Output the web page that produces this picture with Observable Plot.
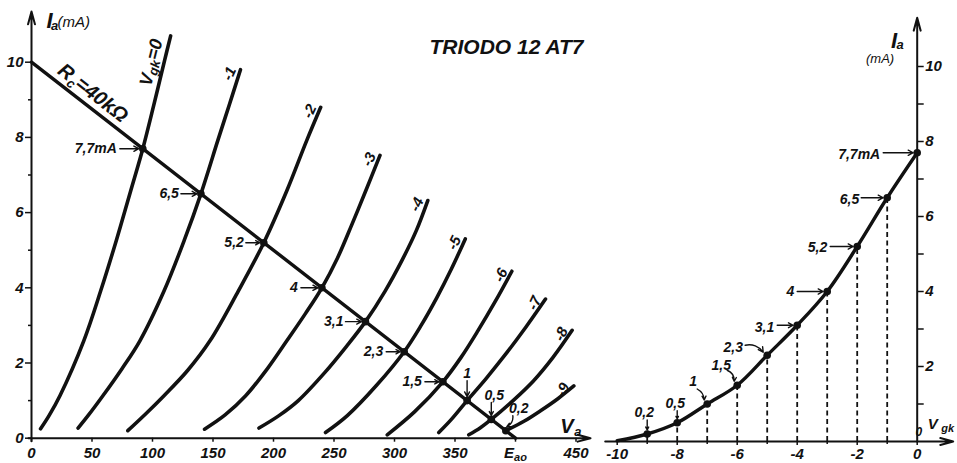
<!DOCTYPE html>
<html>
<head>
<meta charset="utf-8">
<script src="https://cdn.jsdelivr.net/npm/d3@7"></script>
<script src="https://cdn.jsdelivr.net/npm/@observablehq/plot@0.6"></script>
<style>
html, body { margin: 0; padding: 0; background: #fff; }
#chart { position: relative; width: 957px; height: 463px; overflow: hidden; background: #fff; }
#chart svg { position: absolute; left: 0; top: 0; }
</style>
</head>
<body>
<div id="chart"></div>
<script>
// ---------------- data ----------------
const gridVoltages = [0, -1, -2, -3, -4, -5, -6, -7, -8, -9];
const loadCurrents = [7.7, 6.5, 5.2, 4, 3.1, 2.3, 1.5, 1, 0.5, 0.2];
const loadVoltages = [92, 140, 192, 240, 276, 308, 340, 360, 380, 392];
const loadLineVa = [0, 400];
const loadLineIa = [10, 0];

const vaG0 = [7.5, 14.5, 23.5, 43.2, 57.2, 70.1, 82, 92, 101, 110, 115];
const iaG0 = [0.25, 0.6, 1.13, 2.59, 3.92, 5.26, 6.58, 7.7, 8.85, 10.05, 10.7];
const vaG1 = [38.5, 47.2, 59, 74.8, 89.6, 109.6, 126.2, 140, 154, 163.3, 172.7];
const iaG1 = [0.27, 0.62, 1.13, 1.85, 2.59, 3.92, 5.26, 6.5, 7.92, 8.85, 9.8];
const vaG2 = [79.6, 94.5, 109.5, 129, 147.5, 171, 192, 211, 227.5, 239];
const iaG2 = [0.2, 0.65, 1.13, 1.8, 2.59, 3.92, 5.2, 6.58, 7.92, 8.8];
const vaG3 = [143, 160, 177, 195, 211, 226.5, 240, 253, 265, 276.5, 288];
const iaG3 = [0.24, 0.62, 1.13, 1.85, 2.59, 3.32, 4, 4.8, 5.7, 6.6, 7.52];
const vaG4 = [188, 204.5, 220.5, 242.5, 260.5, 276, 292, 306.5, 318, 327.5];
const iaG4 = [0.27, 0.6, 1.0, 1.75, 2.45, 3.1, 3.9, 4.75, 5.52, 6.32];
const vaG5 = [243, 261, 285, 308, 322, 335, 347, 358.5];
const iaG5 = [0.15, 0.6, 1.4, 2.3, 3.0, 3.74, 4.5, 5.3];
const vaG6 = [294, 316.5, 340, 355, 369, 383.5, 397];
const iaG6 = [0.09, 0.7, 1.5, 2.15, 2.86, 3.65, 4.44];
const vaG7 = [336.6, 347, 360, 375.5, 392, 408.5, 424.8];
const iaG7 = [0.15, 0.5, 1.0, 1.58, 2.24, 2.95, 3.7];
const vaG8 = [361.4, 371, 380, 398, 415, 431, 446.8];
const iaG8 = [0.09, 0.28, 0.5, 1.0, 1.53, 2.15, 2.87];
const vaG9 = [392, 407, 420.7, 435, 448.2];
const iaG9 = [0.2, 0.45, 0.73, 1.05, 1.39];

const transferVgk = [-10, -9, -8, -7, -6, -5, -4, -3, -2, -1, 0];
const transferIa = [0.02, 0.2, 0.5, 1, 1.5, 2.3, 3.1, 4, 5.2, 6.5, 7.7];

const vaTicks = [0, 50, 100, 150, 200, 250, 300, 350, 400, 450];
const vaTickLabels = ["0", "50", "100", "150", "200", "250", "300", "350", "Eao", "450"];
const iaTicks = [0, 2, 4, 6, 8, 10];
const iaMinorTicks = [1, 3, 5, 7, 9];
const vgkTicks = [-10, -8, -6, -4, -2, 0];
const vgkMinorTicks = [-9, -7, -5, -3, -1];
const iaTicksRight = [2, 4, 6, 8, 10];

const titleText = "TRIODO 12 AT7";
const rcLabel = "Rc=40kΩ";
const vgk0Label = "Vgk=0";

// ---------------- tables built from the arrays ----------------
const plateVa = [vaG0, vaG1, vaG2, vaG3, vaG4, vaG5, vaG6, vaG7, vaG8, vaG9];
const plateIa = [iaG0, iaG1, iaG2, iaG3, iaG4, iaG5, iaG6, iaG7, iaG8, iaG9];
const plateRows = gridVoltages.flatMap((g, k) => plateVa[k].map((v, j) => ({g, va: v, ia: plateIa[k][j]})));
const plateTops = gridVoltages.map((g, k) => ({g, va: plateVa[k][plateVa[k].length - 1], ia: plateIa[k][plateIa[k].length - 1]}));
const vgk0Anchor = [{va: vaG0[vaG0.length - 2], ia: iaG0[iaG0.length - 2]}];
const loadLine = loadLineVa.map((v, i) => ({va: v, ia: loadLineIa[i]}));
const fmt = d => String(d).replace(".", ",");
const loadPoints = loadCurrents.map((c, i) => ({va: loadVoltages[i], vgk: gridVoltages[i], ia: c, label: fmt(c) + (i === 0 ? "mA" : "")}));
const transferRows = transferVgk.map((v, i) => ({vgk: v, ia: transferIa[i]}));
const dashedRows = transferRows.filter(d => d.vgk > -10 && d.vgk < 0);

// ---------------- layout / style ----------------
const W = 957, H = 463;
const FONT = "'Liberation Sans', Arial, sans-serif";
const INK = "#111";
const L = {left: 31, right: 575.5, top: 61.7, bottom: 437.7};
const R = {left: 616.7, right: 916.7, top: 66, bottom: 441};
const kxL = (L.right - L.left) / 450, kyL = (L.bottom - L.top) / 10;
const kxR = (R.right - R.left) / 10, kyR = (R.bottom - R.top) / 10;

// pixel offsets of each annotation relative to its dot: text (tx,ty), arrow [x1,y1,x2,y2]
const leftLayout = [
  {tx: -26, ty: 0, a: [-23, 0, -4, 0]},
  {tx: -22, ty: 0, a: [-20, 0, -4, 0]},
  {tx: -20, ty: 0, a: [-18, 0, -4, 0]},
  {tx: -24, ty: 0, a: [-21, 0, -4, 0]},
  {tx: -22, ty: 0, a: [-20, 0, -4, 0]},
  {tx: -21, ty: 0, a: [-18, 0, -4, 0]},
  {tx: -21, ty: 0, a: [-18, 0, -4, 0]},
  {tx: 0, ty: -27, anchor: "middle", a: [0, -20, 0, -4]},
  {tx: 3, ty: -24, anchor: "middle", a: [0, -17, 0, -4]},
  {tx: 13, ty: -22, anchor: "middle", a: [7, -15, 1, -4], bend: 35}
];
const rightLayout = [
  {tx: -37, ty: 2, a: [-34, 0, -4, 0]},
  {tx: -28, ty: 2, a: [-26, 0, -4, 0]},
  {tx: -30, ty: 1, a: [-27, 0, -4, 0]},
  {tx: -33, ty: 0, a: [-30, 0, -4, 0]},
  {tx: -23, ty: 2, a: [-20, 0, -4, 0]},
  {tx: -34, ty: -8, anchor: "middle", a: [-22, -10, -4, -3], bend: 35},
  {tx: -16, ty: -20, anchor: "middle", a: [-10, -15, -3, -4], bend: 35},
  {tx: -14, ty: -22, anchor: "middle", a: [-10, -15, -3, -4], bend: 30},
  {tx: -2, ty: -19, anchor: "middle", a: [0, -12, 0, -4]},
  {tx: -3, ty: -21, anchor: "middle", a: [0, -14, 0, -4]}
];

function annotations(points, layout, xKey, kx, ky) {
  const marks = [];
  points.forEach((p, i) => {
    const s = layout[i];
    marks.push(Plot.text([p], {x: xKey, y: "ia", text: "label", dx: s.tx, dy: s.ty,
      textAnchor: s.anchor || "end", fontSize: 14, fill: INK}));
    marks.push(Plot.arrow([p], {
      x1: d => d[xKey] + s.a[0] / kx, y1: d => d.ia - s.a[1] / ky,
      x2: d => d[xKey] + s.a[2] / kx, y2: d => d.ia - s.a[3] / ky,
      bend: s.bend || 0, headLength: 6, headAngle: 55, strokeWidth: 1.4, stroke: INK
    }));
  });
  return marks;
}

// free-standing label placed relative to a corner of the frame
function frameLabel(str, anchor, dx, dy, size, extra = {}) {
  return Plot.text([str], {frameAnchor: anchor, text: d => d, dx, dy, fontSize: size, lineAnchor: "middle", fill: INK, ...extra});
}

const baseStyle = {background: "transparent", fontFamily: FONT, fontStyle: "italic", fontWeight: "bold", color: INK, overflow: "visible"};

// ---------------- left panel: plate characteristics ----------------
const left = Plot.plot({
  width: W, height: H,
  marginLeft: L.left, marginRight: W - L.right, marginTop: L.top, marginBottom: H - L.bottom,
  style: baseStyle,
  x: {domain: [0, 450]},
  y: {domain: [0, 10]},
  marks: [
    Plot.axisX(vaTicks, {tickSize: 4, tickPadding: 5, fontSize: 15, label: null, strokeWidth: 1.5,
      tickFormat: d => vaTickLabels[vaTicks.indexOf(d)]}),
    Plot.axisY(iaTicks, {tickSize: 6, tickPadding: 2, fontSize: 15, label: null, strokeWidth: 1.5}),
    Plot.axisY(iaMinorTicks, {tickSize: 3, tickFormat: () => "", label: null, strokeWidth: 1.5}),
    Plot.arrow([0], {x1: -2.5, x2: 462, y1: 0, y2: 0, headLength: 10, headAngle: 30, strokeWidth: 2, stroke: INK}),
    Plot.arrow([0], {x1: 0, x2: 0, y1: -0.08, y2: 11.35, headLength: 10, headAngle: 30, strokeWidth: 2, stroke: INK}),
    Plot.line(plateRows, {x: "va", y: "ia", z: "g", curve: "catmull-rom", stroke: INK, strokeWidth: 3.6}),
    Plot.line(loadLine, {x: "va", y: "ia", stroke: INK, strokeWidth: 3.4}),
    Plot.dot(loadPoints, {x: "va", y: "ia", r: 3.8, fill: INK}),
    ...annotations(loadPoints, leftLayout, "va", kxL, kyL),
    Plot.text(plateTops.filter(d => d.g !== 0), {x: "va", y: "ia", text: d => String(d.g), dx: -11, dy: 4, rotate: -65, fontSize: 15, fill: INK}),
    Plot.text(vgk0Anchor, {x: "va", y: "ia", text: () => vgk0Label, dx: -13.4, dy: 2.2, rotate: -76, fontSize: 18, fill: INK}),
    Plot.text(loadLine.slice(0, 1), {x: "va", y: "ia", text: () => rcLabel, dx: 61.5, dy: 30.8, rotate: 37.8, fontSize: 20, fill: INK}),
    frameLabel(titleText, "top-right", 7.5, -15, 21),
    frameLabel("I", "top-left", 15, -41.7, 22),
    frameLabel("a", "top-left", 19.5, -36, 13),
    frameLabel("(mA)", "top-left", 26, -39.7, 15, {textAnchor: "start", fontWeight: "normal"}),
    frameLabel("V", "bottom-right", -2.5, -11.2, 20),
    frameLabel("a", "bottom-right", 5.5, -6.7, 13)
  ]
});

// ---------------- right panel: transfer characteristic ----------------
const right = Plot.plot({
  width: W, height: H,
  marginLeft: R.left, marginRight: W - R.right, marginTop: R.top, marginBottom: H - R.bottom,
  style: baseStyle,
  x: {domain: [-10, 0]},
  y: {domain: [0, 10]},
  marks: [
    Plot.axisX(vgkTicks, {tickSize: 4, tickPadding: 3, fontSize: 15, label: null, strokeWidth: 1.5, tickFormat: d => String(d)}),
    Plot.axisX(vgkMinorTicks, {tickSize: 3, tickFormat: () => "", label: null, strokeWidth: 1.5}),
    Plot.axisY(iaTicksRight, {anchor: "right", tickSize: 6, tickPadding: 2, fontSize: 15, label: null, strokeWidth: 1.5}),
    Plot.axisY(iaMinorTicks, {anchor: "right", tickSize: 6, tickFormat: () => "", label: null, strokeWidth: 1.5}),
    Plot.arrow([0], {x1: -10.4, x2: 1.2, y1: 0, y2: 0, headLength: 10, headAngle: 30, strokeWidth: 2, stroke: INK}),
    Plot.arrow([0], {x1: 0, x2: 0, y1: 0, y2: 11.3, headLength: 10, headAngle: 30, strokeWidth: 2, stroke: INK}),
    Plot.ruleX(dashedRows, {x: "vgk", y1: 0, y2: "ia", stroke: INK, strokeWidth: 1.8, strokeDasharray: "5,3.5"}),
    Plot.line(transferRows, {x: "vgk", y: "ia", curve: "catmull-rom", stroke: INK, strokeWidth: 3.4}),
    Plot.dot(loadPoints, {x: "vgk", y: "ia", r: 3.8, fill: INK}),
    ...annotations(loadPoints, rightLayout, "vgk", kxR, kyR),
    frameLabel("I", "top-right", -20, -26, 22),
    frameLabel("a", "top-right", -13.5, -22, 13),
    frameLabel("(mA)", "top-right", -23, -8, 13, {fontWeight: "normal"}),
    frameLabel("0", "bottom-right", 5, -9, 12),
    frameLabel("V", "bottom-right", 20.5, -17, 15),
    frameLabel("gk", "bottom-right", 24, -13, 11, {textAnchor: "start"})
  ]
});

// subscripts inside composite labels (kept as real text)
function subscript(svg, full, parts, size, shift) {
  d3.select(svg).selectAll("text").filter(function () { return this.textContent === full; })
    .each(function () {
      const t = d3.select(this);
      t.text(null);
      let down = false;
      for (const [s, sub] of parts) {
        const ts = t.append("tspan").text(s);
        if (sub) { ts.attr("font-size", size); if (!down) { ts.attr("dy", shift); down = true; } }
        else if (down) { ts.attr("dy", -shift); down = false; }
      }
    });
}
subscript(left, rcLabel, [["R", false], ["c", true], ["=40kΩ", false]], 13, 4);
subscript(left, vgk0Label, [["V", false], ["gk", true], ["=0", false]], 13, 3);
subscript(left, "Eao", [["E", false], ["ao", true]], 11, 3);

const chart = document.getElementById("chart");
chart.appendChild(left);
chart.appendChild(right);
</script>
</body>
</html>
